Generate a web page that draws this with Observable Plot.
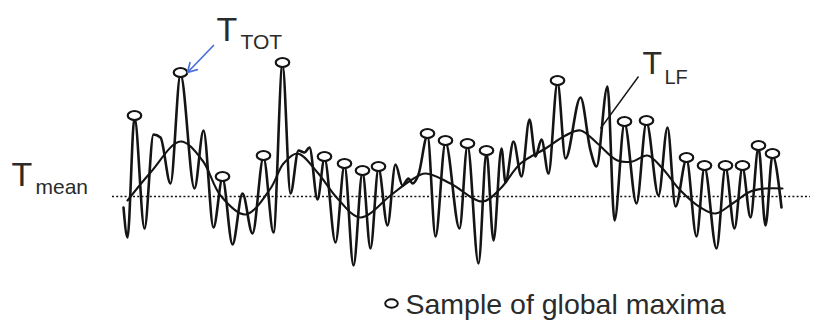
<!DOCTYPE html>
<html>
<head>
<meta charset="utf-8">
<script src="https://cdn.jsdelivr.net/npm/d3@7"></script>
<script src="https://cdn.jsdelivr.net/npm/@observablehq/plot@0.6"></script>
<style>
  body { margin: 0; background: #fff; }
  #chart svg { display: block; font-family: "Liberation Sans", Arial, sans-serif; }
</style>
</head>
<body>
<div id="chart"></div>
<script>
// ---- Data (schematic time series, temperature anomaly relative to T_mean) ----
const tTotTime = [123,127,134,144,153,160,170,180,194,203,213,222,232,242,252,263,273,282,290,298,
  304,309,317,324,335,344,353,362,370,378,387,395,402,408,412,418,427,435,445,459,
  467,478,486,493,501,505,513,521,529,535,541,548,557,565,580,590,596,607,614,624,
  636,646,658,667,675,686,696,704,716,725,734,742,750,758,765,772,781];
const tTotTemp = [-11,-41,79,-32,62,59,13,122,8,66,
  -31,18,-48,3,-37,39,-36,132,3,46,
  44,49,-3,38,-46,31,-69,24,-52,28,
  -29,32,11,18,13,22,61,-40,54,-32,
  51,-67,44,-44,48,14,55,20,77,40,
  57,23,114,38,99,46,30,110,-24,73,
  -7,74,1,69,-10,37,-40,29,-52,29,
  -32,29,-21,49,-29,41,-11];
const maximaTime = [134,180,222,263,282,324,344,362,378,427,445,467,486,557,624,646,686,704,725,742,758,772];
const tLfTime = [127,150,180,202,220,245,270,283,297,317,337,360,390,410,425,450,482,500,520,545,
  565,580,597,617,632,647,662,680,700,715,732,750,765,782];
const tLfTemp = [-4,24,55,36,1,-18,8,33,43,24,-2,-21,1,16,23,13,-5,8,33,48,
  61,66,53,36,35,41,28,6,-11,-17,-7,5,8,8];
const meanTemp = 0;
const labels = { tot: ["T", "TOT"], lf: ["T", "LF"], mean: ["T", "mean"], legend: "Sample of global maxima" };

// ---- Tables built from the arrays ----
const tot = tTotTime.map((t, i) => ({time: t, temp: tTotTemp[i]}));
const lf = tLfTime.map((t, i) => ({time: t, temp: tLfTemp[i]}));
const maxima = maximaTime.map(t => ({time: t, temp: tTotTemp[tTotTime.indexOf(t)]}));
const totPeak = maxima.find(d => d.time === 180);
const lfPeak = lf.find(d => d.time === 580);

// ellipse symbol for the maxima markers
const ellipse = {
  draw(ctx, size) {
    const r = Math.sqrt(size / Math.PI), rx = r * 1.5, ry = r, k = 0.5523;
    ctx.moveTo(rx, 0);
    ctx.bezierCurveTo(rx, ry * k, rx * k, ry, 0, ry);
    ctx.bezierCurveTo(-rx * k, ry, -rx, ry * k, -rx, 0);
    ctx.bezierCurveTo(-rx, -ry * k, -rx * k, -ry, 0, -ry);
    ctx.bezierCurveTo(rx * k, -ry, rx, -ry * k, rx, 0);
    ctx.closePath();
  }
};

const ink = "#141414";
const textInk = "#2b2b2b";

const chart = Plot.plot({
  width: 821,
  height: 321,
  margin: 0,
  x: {domain: [0, 821], axis: null},
  y: {domain: [-125, 196], axis: null},
  marks: [
    // T_mean dotted line
    Plot.ruleY([meanTemp], {x1: 112, x2: 810, stroke: ink, strokeWidth: 1.7, strokeDasharray: "2,2.2"}),
    // T_TOT signal
    Plot.line(tot, {x: "time", y: "temp", curve: "monotone-x", stroke: ink, strokeWidth: 2.6}),
    // T_LF low-frequency component
    Plot.line(lf, {x: "time", y: "temp", curve: "catmull-rom", stroke: ink, strokeWidth: 2.1}),
    // sampled global maxima
    Plot.dot(maxima, {x: "time", y: "temp", dy: -2, r: 4.5, symbol: ellipse, fill: "white", stroke: ink, strokeWidth: 2.2}),
    // T_TOT arrow (blue)
    Plot.arrow([totPeak], {x1: d => d.time + 33, y1: d => d.temp + 29, x2: d => d.time + 7, y2: d => d.temp + 2,
      stroke: "#4a6fdc", strokeWidth: 1.7, headLength: 9}),
    // T_LF pointer
    Plot.link([lfPeak], {x1: d => d.time + 58, y1: d => d.temp + 54, x2: d => d.time + 20, y2: d => d.temp + 2,
      stroke: ink, strokeWidth: 1.4}),
    // Labels
    Plot.text([totPeak], {x: "time", y: "temp", text: () => labels.tot[0], dx: 36, dy: -34, fontSize: 34, textAnchor: "start", lineAnchor: "bottom", fill: textInk}),
    Plot.text([totPeak], {x: "time", y: "temp", text: () => labels.tot[1], dx: 60, dy: -26, fontSize: 21, textAnchor: "start", lineAnchor: "bottom", fill: textInk}),
    Plot.text([lfPeak], {x: "time", y: "temp", text: () => labels.lf[0], dx: 62, dy: -57, fontSize: 32, textAnchor: "start", lineAnchor: "bottom", fill: textInk}),
    Plot.text([lfPeak], {x: "time", y: "temp", text: () => labels.lf[1], dx: 84, dy: -47, fontSize: 20, textAnchor: "start", lineAnchor: "bottom", fill: textInk}),
    Plot.text([meanTemp], {x: 112, y: d => d, text: () => labels.mean[0], dx: -101, dy: -11, fontSize: 34, textAnchor: "start", lineAnchor: "bottom", fill: textInk}),
    Plot.text([meanTemp], {x: 112, y: d => d, text: () => labels.mean[1], dx: -77, dy: -3, fontSize: 21, textAnchor: "start", lineAnchor: "bottom", fill: textInk}),
    // Legend
    Plot.dot([labels.legend], {frameAnchor: "bottom-left", dx: 391, dy: -18, r: 4.2, symbol: ellipse, fill: "white", stroke: ink, strokeWidth: 2}),
    Plot.text([labels.legend], {frameAnchor: "bottom-left", text: d => d, dx: 405, dy: -8, fontSize: 28.5, textAnchor: "start", lineAnchor: "bottom", fill: textInk})
  ]
});
document.getElementById("chart").append(chart);
</script>
</body>
</html>
